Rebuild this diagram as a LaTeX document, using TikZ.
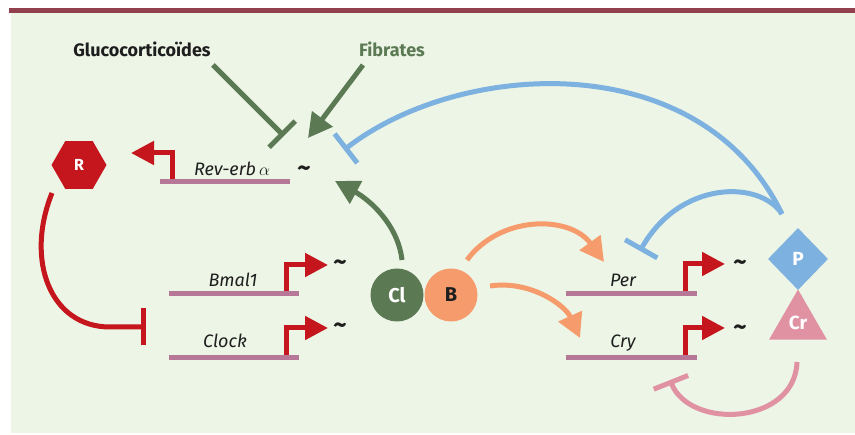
\documentclass[tikz,border=0pt]{standalone}
\usepackage{fontspec}
\setmainfont{Fira Sans}
\usetikzlibrary{shapes.geometric,arrows.meta}
\definecolor{rulec}{HTML}{923F4E}
\definecolor{bgc}{HTML}{EDF5E6}
\definecolor{dgreen}{HTML}{5B7A53}
\definecolor{rred}{HTML}{C4161C}
\definecolor{genec}{HTML}{B77898}
\definecolor{blu}{HTML}{7DB1E0}
\definecolor{org}{HTML}{F59B6C}
\definecolor{pnk}{HTML}{E092A3}
\definecolor{txt}{HTML}{1E1E1E}
\begin{document}
\begin{tikzpicture}[x=1pt,y=-1pt,
  lw/.style={line width=5pt},
  inh/.style={lw, -{Bar[width=37pt]}},
  act/.style={lw, -{Triangle[length=24pt,width=25pt]}},
  prom/.style={line width=5pt, rred, line join=miter, -{Triangle[length=23pt,width=23pt]}},
  geneline/.style={line width=5pt, genec},
  glab/.style={font=\itshape\fontsize{18}{18}\selectfont, text=txt, anchor=base, inner sep=0},
  tild/.style={font=\bfseries\fontsize{26}{26}\selectfont, text=txt, inner sep=0},
  sym/.style={font=\bfseries\fontsize{20}{20}\selectfont, inner sep=0},
  title/.style={font=\bfseries\fontsize{18}{18}\selectfont, anchor=base, inner sep=0}
]
\useasboundingbox (0,0) rectangle (855,435);
% background and rule
\fill[bgc] (11,13) rectangle (855,433);
\fill[rulec] (9,8) rectangle (855,13);

% titles
\node[title, text=txt] (gluco) at (142,57) {Glucocorticoïdes};
\node[title, text=dgreen] (fib) at (392,57) {Fibrates};

% shapes
\node[regular polygon, regular polygon sides=6, minimum size=55pt, inner sep=0, fill=rred, text=white, sym, font=\bfseries\fontsize{16}{16}\selectfont] (R) at (79,165) {R};
\node[diamond, minimum width=60pt, minimum height=62pt, inner sep=0, fill=blu, text=white, sym, font=\bfseries\fontsize{19}{19}\selectfont] (P) at (798,259) {P};
\node[regular polygon, regular polygon sides=3, minimum size=67pt, inner sep=0, fill=pnk, text=white, sym, font=\bfseries\fontsize{19}{19}\selectfont] (Cr) at (798,323) {Cr};
\node[circle, minimum size=53pt, inner sep=0, fill=dgreen, text=white, sym] (Cl) at (397,295) {Cl};
\node[circle, minimum size=53pt, inner sep=0, fill=org, text=txt, sym] (B) at (451,295) {B};

% coordinates
\coordinate (gS) at (213,65);
\coordinate (gE) at (284,136);
\coordinate (fS) at (363,65);
\coordinate (fE) at (308,138);
\coordinate (pS) at (782,214);
\coordinate (bRev) at (344,150);
\coordinate (bPer) at (640,251);
\coordinate (rS) at (52,193);
\coordinate (rM) at (110,327);
\coordinate (bClock) at (146,327);
\coordinate (clS) at (402,260);
\coordinate (revT) at (335,181);
\coordinate (o1S) at (467,260);
\coordinate (o1E) at (604,262);
\coordinate (o2S) at (490,286);
\coordinate (o2E) at (580,338);
\coordinate (crS) at (797,362);
\coordinate (bCry) at (670,380);

% regulation connectors
\draw[inh, dgreen] (gS) -- (gE);
\draw[act, dgreen] (fS) -- (fE);
\draw[inh, blu] (pS) .. controls (700,45) and (460,60) .. (bRev);
\draw[inh, blu] (pS) .. controls (760,180) and (680,180) .. (bPer);
\draw[inh, rred] (rS) .. controls (25,260) and (50,327) .. (rM) -- (bClock);
\draw[act, dgreen] (clS) .. controls (398,225) and (370,200) .. (revT);
\draw[act, org] (o1S) .. controls (500,215) and (570,215) .. (o1E);
\draw[act, org] (o2S) .. controls (530,280) and (565,305) .. (o2E);
\draw[inh, pnk] (crS) .. controls (795,425) and (690,430) .. (bCry);

% promoters
\coordinate (revP) at (172,180); \coordinate (revA) at (131,153);
\coordinate (bmP) at (286,292);  \coordinate (bmA) at (328,265);
\coordinate (ckP) at (286,356);  \coordinate (ckA) at (328,328);
\coordinate (peP) at (685,292);  \coordinate (peA) at (725,264);
\coordinate (cyP) at (685,356);  \coordinate (cyA) at (725,328);
\draw[prom] (revP) |- (revA);
\draw[prom] (bmP) |- (bmA);
\draw[prom] (ckP) |- (ckA);
\draw[prom] (peP) |- (peA);
\draw[prom] (cyP) |- (cyA);

% genes
\coordinate (g1a) at (160,182); \coordinate (g1b) at (290,182);
\coordinate (g2a) at (169,294); \coordinate (g2b) at (299,294);
\coordinate (g3a) at (169,358); \coordinate (g3b) at (299,358);
\coordinate (g4a) at (566,294); \coordinate (g4b) at (697,294);
\coordinate (g5a) at (566,358); \coordinate (g5b) at (697,358);
\draw[geneline] (g1a) -- (g1b);
\draw[geneline] (g2a) -- (g2b);
\draw[geneline] (g3a) -- (g3b);
\draw[geneline] (g4a) -- (g4b);
\draw[geneline] (g5a) -- (g5b);

% gene labels
\node[glab] (lrev) at (232,176) {Rev-erb\,$\alpha$};
\node[glab] (lbm) at (233,287) {Bmal1};
\node[glab] (lck) at (225,348) {Clock};
\node[glab] (lpe) at (623,287) {Per};
\node[glab] (lcy) at (623,348) {Cry};

% tildes
\node[tild] (t1) at (304,171) {\char"7E};
\node[tild] (t2) at (340,265) {\char"7E};
\node[tild] (t3) at (340,328) {\char"7E};
\node[tild] (t4) at (740,265) {\char"7E};
\node[tild] (t5) at (740,330) {\char"7E};
\end{tikzpicture}
\end{document}
